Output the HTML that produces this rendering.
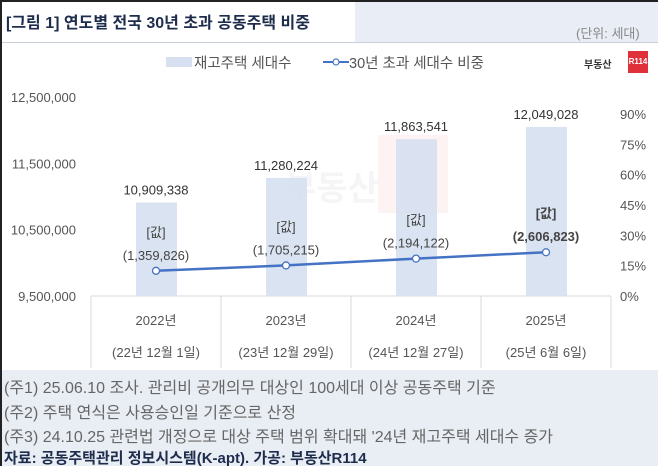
<!DOCTYPE html>
<html><head><meta charset="utf-8"><style>
body{margin:0;width:658px;height:466px;overflow:hidden;background:#fff;font-family:"Liberation Sans","Noto Sans CJK KR",sans-serif;}
#wrap{position:relative;width:658px;height:466px;}
.t{position:absolute;white-space:nowrap;}
</style></head><body>
<div id="wrap">
<div style="position:absolute;left:0;top:0;width:658px;height:2px;background:#222"></div>
<div style="position:absolute;left:0;top:0;width:2px;height:466px;background:#222"></div>
<div style="position:absolute;left:355px;top:2px;width:303px;height:40px;background:#e9edf5"></div>
<div style="position:absolute;left:2px;top:42px;width:656px;height:1px;background:#c9cfd9"></div>
<div class="t" style="left:6px;top:9px;font-size:16px;font-weight:bold;color:#1f2d4d">[그림 1] 연도별 전국 30년 초과 공동주택 비중</div>
<div class="t" style="left:576px;top:23px;font-size:13px;color:#888">(단위: 세대)</div>
<div>
<div style="position:absolute;left:166px;top:57px;width:26px;height:10px;background:#d6e0f1"></div>
<div class="t" style="left:194px;top:52px;font-size:14.5px;color:#555">재고주택 세대수</div>
<svg style="position:absolute;left:323px;top:55px" width="26" height="14"><line x1="0" y1="7" x2="26" y2="7" stroke="#4472c4" stroke-width="2"/><circle cx="13" cy="7" r="3" fill="#fff" stroke="#4472c4" stroke-width="1.2"/></svg>
<div class="t" style="left:349px;top:52px;font-size:14.5px;color:#555">30년 초과 세대수 비중</div>
</div>
<div class="t" style="left:584px;top:56px;font-size:10px;font-weight:bold;color:#333">부동산</div>
<div class="t" style="left:628px;top:51px;width:20px;height:22px;background:#e0303a;color:#fff;font-size:8px;font-weight:bold;text-align:center;line-height:22px">R114</div>
<svg id="chart" style="position:absolute;left:0;top:0" width="658" height="370"></svg>
<div style="position:absolute;left:2px;top:370px;width:656px;height:96px;background:#e9edf4"></div>
<div class="t" style="left:4px;top:374px;font-size:16px;color:#666">(주1) 25.06.10 조사. 관리비 공개의무 대상인 100세대 이상 공동주택 기준</div>
<div class="t" style="left:4px;top:399px;font-size:16px;color:#666">(주2) 주택 연식은 사용승인일 기준으로 산정</div>
<div class="t" style="left:4px;top:423px;font-size:16px;color:#666">(주3) 24.10.25 관련법 개정으로 대상 주택 범위 확대돼 '24년 재고주택 세대수 증가</div>
<div class="t" style="left:4px;top:447px;font-size:15px;font-weight:bold;color:#1f2d4d">자료: 공동주택관리 정보시스템(K-apt). 가공: 부동산R114</div>
</div>
<script>
const categories=["2022년","2023년","2024년","2025년"];
const dates=["(22년 12월 1일)","(23년 12월 29일)","(24년 12월 27일)","(25년 6월 6일)"];
const stock=[10909338,11280224,11863541,12049028];
const old30=[1359826,1705215,2194122,2606823];
const leftTicks=[9500000,10500000,11500000,12500000];
const rightTicks=[0,15,30,45,60,75,90];
const NS="http://www.w3.org/2000/svg";
const svg=document.getElementById('chart');
const x0=91,cw=130,base=296;
const yL=v=>base-(v-9500000)/3000000*199;
const yR=p=>base-p/90*182;
const xC=i=>x0+cw*i+cw/2;
function mk(tag,a,txt){const e=document.createElementNS(NS,tag);for(const k in a)e.setAttribute(k,a[k]);if(txt!==undefined)e.textContent=txt;svg.appendChild(e);return e;}
const fmt=n=>n.toLocaleString('en-US');
leftTicks.forEach(v=>{const e=mk('text',{x:76,y:yL(v)+5,'text-anchor':'end','font-size':13,fill:'#555'},fmt(v));

});
rightTicks.forEach(v=>{const e=mk('text',{x:620,y:yR(v)+5,'font-size':13,fill:'#555'},v+'%');

});
mk('line',{x1:x0,y1:base,x2:x0+cw*4,y2:base,stroke:'#d9d9d9'});
for(let i=0;i<=4;i++){mk('line',{x1:x0+cw*i,y1:base,x2:x0+cw*i,y2:368,stroke:'#d9d9d9'});}
// watermark
mk('text',{x:285,y:200,'font-size':34,'font-weight':'bold',fill:'#f5f5f7'},'부동산');
mk('rect',{x:378,y:135,width:70,height:78,fill:'#fdf3f3'});
categories.forEach((c,i)=>{
const y=yL(stock[i]);
const b=mk('rect',{x:xC(i)-20,y:y,width:41,height:base-y,fill:'#d6e0f1','fill-opacity':0.9});


const t=mk('text',{x:xC(i),y:y-8,'text-anchor':'middle','font-size':13,fill:'#333'},fmt(stock[i]));


const g=mk('text',{x:xC(i),y:325,'text-anchor':'middle','font-size':13,fill:'#555'},c);


const d=mk('text',{x:xC(i),y:357,'text-anchor':'middle','font-size':13,fill:'#555'},dates[i]);


});
const pts=old30.map((v,i)=>[xC(i),yR(v/stock[i]*100)]);
const line=mk('polyline',{points:pts.map(p=>p.join(',')).join(' '),fill:'none',stroke:'#4472c4','stroke-width':2.5});


pts.forEach((p,i)=>{
const c=mk('circle',{cx:p[0],cy:p[1],r:3.5,fill:'#fff',stroke:'#4472c4','stroke-width':1.3});


const bold=i===3;
const a=mk('text',{x:p[0],y:p[1]-34,'text-anchor':'middle','font-size':13,fill:'#444','font-weight':bold?'bold':'normal'},'[값]');


const v=mk('text',{x:p[0],y:p[1]-11,'text-anchor':'middle','font-size':13,fill:'#444','font-weight':bold?'bold':'normal'},'('+fmt(old30[i])+')');


});
</script>
</body></html>
